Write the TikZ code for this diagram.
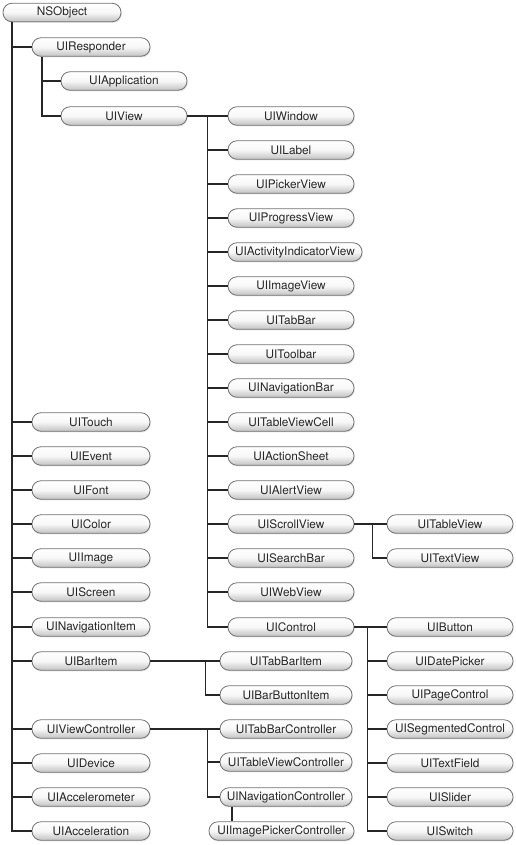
\documentclass[tikz,border=0pt]{standalone}
\usepackage{fontspec}
\setmainfont{TeX Gyre Heros}
\usetikzlibrary{shadows}
\begin{document}
\begin{tikzpicture}[x=1pt,y=-1pt,
  pill/.style={draw=black!55, line width=0.8pt, rounded corners=9pt, minimum height=18.5pt,
    inner sep=0pt, top color=white, bottom color=black!24, middle color=black!3,
    drop shadow={opacity=0.2, shadow xshift=0.8pt, shadow yshift=-1.2pt},
    font=\fontsize{11.8}{12}\selectfont, text=black!85},
  wa/.style={pill, minimum width=118pt},
  wb/.style={pill, minimum width=126pt},
  wc/.style={pill, minimum width=132pt},
  link/.style={draw=black!85, line width=1.2pt}]
\useasboundingbox[fill=white] (0,0) rectangle (515,845);
% level 0
\node[wa] (nsobject) at (62,12.5) {NSObject};
% level 1
\node[wa] (resp) at (91,47) {UIResponder};
\node[wb] (app) at (124,81) {UIApplication};
\node[wb] (view) at (124,116) {UIView};
% view subclasses
\node[wb] (window) at (291,116) {UIWindow};
\node[wb] (label) at (291,150) {UILabel};
\node[wb] (picker) at (291,184) {UIPickerView};
\node[wb] (progress) at (291,218) {UIProgressView};
\node[pill, minimum width=134pt] (activity) at (295,252) {UIActivityIndicatorView};
\node[wb] (imageview) at (291,286) {UIImageView};
\node[wb] (tabbar) at (291,320) {UITabBar};
\node[wb] (toolbar) at (291,354) {UIToolbar};
\node[wb] (navbar) at (291,388) {UINavigationBar};
\node[wb] (cell) at (291,422) {UITableViewCell};
\node[wb] (action) at (291,456) {UIActionSheet};
\node[wb] (alert) at (291,490) {UIAlertView};
\node[wb] (scroll) at (291,524) {UIScrollView};
\node[wb] (search) at (291,558) {UISearchBar};
\node[wb] (web) at (291,592) {UIWebView};
\node[wb] (control) at (291,627) {UIControl};
% scroll subclasses
\node[wb] (table) at (450,524) {UITableView};
\node[wb] (textview) at (450,558) {UITextView};
% control subclasses
\node[wb] (button) at (450,627) {UIButton};
\node[wb] (date) at (450,661) {UIDatePicker};
\node[wb] (page) at (450,695) {UIPageControl};
\node[wb] (seg) at (450,729) {UISegmentedControl};
\node[wb] (field) at (450,763) {UITextField};
\node[wb] (slider) at (450,797) {UISlider};
\node[wb] (switch) at (450,831) {UISwitch};
% left column
\node[wa] (touch) at (91,422) {UITouch};
\node[wa] (event) at (91,456) {UIEvent};
\node[wa] (font) at (91,490) {UIFont};
\node[wa] (color) at (91,524) {UIColor};
\node[wa] (image) at (91,558) {UIImage};
\node[wa] (screen) at (91,592) {UIScreen};
\node[wa] (navitem) at (91,627) {UINavigationItem};
\node[wa] (baritem) at (91,661) {UIBarItem};
\node[wa] (vc) at (91,729) {UIViewController};
\node[wa] (device) at (91,763) {UIDevice};
\node[wa] (accel) at (91,797) {UIAccelerometer};
\node[wa] (accion) at (91,831) {UIAcceleration};
% bar items
\node[wc] (tabitem) at (286,661) {UITabBarItem};
\node[wc] (barbutton) at (286,695) {UIBarButtonItem};
% controllers
\node[wc] (tabctrl) at (286,729) {UITabBarController};
\node[wc] (tablectrl) at (286,762) {UITableViewController};
\node[wc] (navctrl) at (286,797) {UINavigationController};
\node[pill, minimum width=145pt] (imgpick) at (281.5,831) {UIImagePickerController};
% connectors
\foreach \c in {resp,touch,event,font,color,image,screen,navitem,baritem,vc,device,accel,accion}
  \draw[link] ([xshift=-50pt]nsobject.south) |- (\c.west);
\foreach \c in {app,view}
  \draw[link] ([xshift=-49pt]resp.south) |- (\c.west);
\foreach \c in {window,label,picker,progress,activity,imageview,tabbar,toolbar,navbar,cell,action,alert,scroll,search,web,control}
  \draw[link] (view.east) -- ++(20,0) |- (\c.west);
\foreach \c in {table,textview}
  \draw[link] (scroll.east) -- ++(18,0) |- (\c.west);
\foreach \c in {button,date,page,seg,field,slider,switch}
  \draw[link] (control.east) -- ++(13,0) |- (\c.west);
\foreach \c in {tabitem,barbutton}
  \draw[link] (baritem.east) -- ++(55,0) |- (\c.west);
\foreach \c in {tabctrl,tablectrl,navctrl}
  \draw[link] (vc.east) -- ++(57,0) |- (\c.west);
\draw[link] ([xshift=-54pt]navctrl.south) -- ([xshift=-54pt]navctrl.south |- imgpick.north);
\end{tikzpicture}
\end{document}
